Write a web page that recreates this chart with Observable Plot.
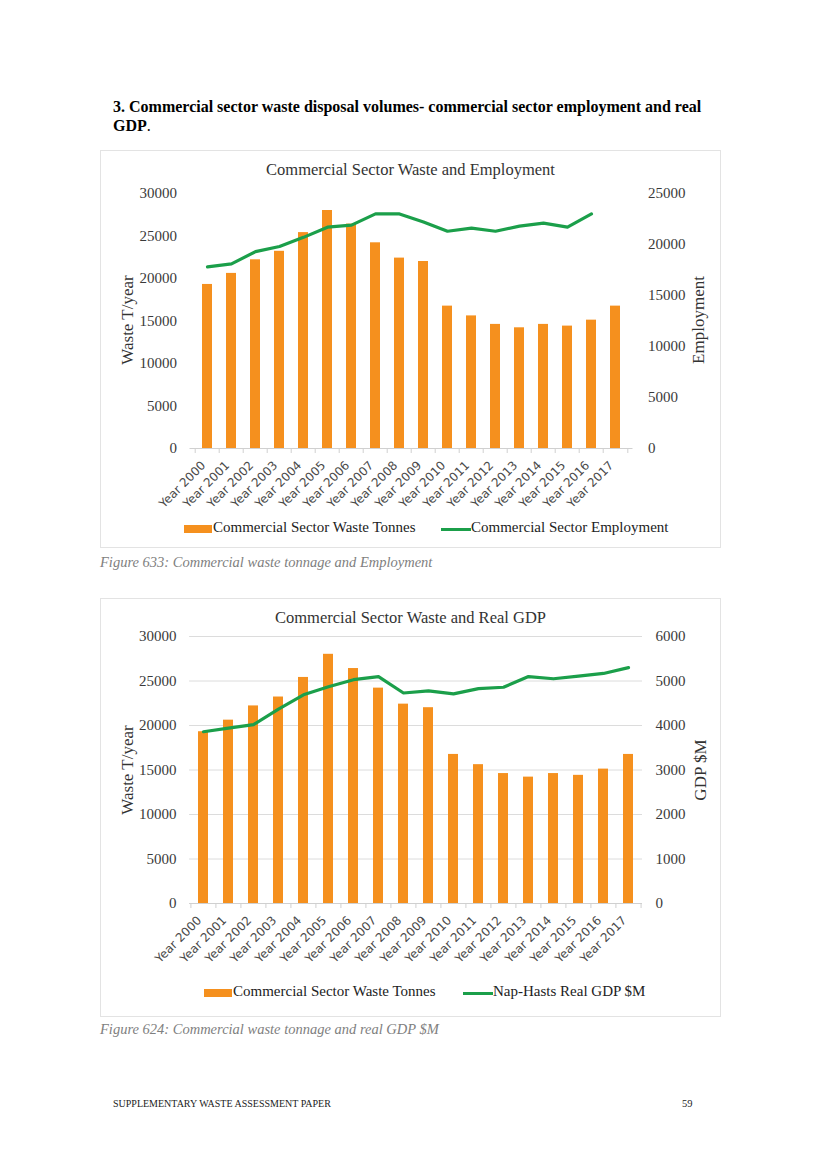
<!DOCTYPE html>
<html>
<head>
<meta charset="utf-8">
<script src="https://cdn.jsdelivr.net/npm/d3@7"></script>
<script src="https://cdn.jsdelivr.net/npm/@observablehq/plot@0.6"></script>
<style>
  html, body { margin: 0; padding: 0; background: #fff; }
  #page { position: relative; width: 821px; height: 1160px; overflow: hidden; font-family: "Liberation Serif", serif; color: #000; }
  .abs { position: absolute; white-space: nowrap; }
  .box { position: absolute; border: 1.5px solid #e3e3e3; box-sizing: border-box; }
  .ctitle { position: absolute; left: 100px; width: 621px; text-align: center; font-size: 16.5px; color: #333; }
  .legtxt { font-size: 15px; color: #222; }
  .caption { font-style: italic; font-size: 14.5px; color: #808080; }
  .ytitle { position: absolute; width: 200px; height: 20px; line-height: 20px; text-align: center; font-size: 17px; color: #333; transform: rotate(-90deg); }
</style>
</head>
<body>
<div id="page"></div>
<script>
// ---------- data ----------
const years = ["Year 2000","Year 2001","Year 2002","Year 2003","Year 2004","Year 2005","Year 2006","Year 2007","Year 2008","Year 2009","Year 2010","Year 2011","Year 2012","Year 2013","Year 2014","Year 2015","Year 2016","Year 2017"];
const wasteTonnes = [19300, 20600, 22200, 23200, 25400, 28000, 26400, 24200, 22400, 22000, 16750, 15600, 14600, 14200, 14600, 14400, 15100, 16750];
const employment = [17800, 18100, 19300, 19800, 20700, 21700, 21900, 23000, 23000, 22200, 21300, 21600, 21300, 21800, 22100, 21700, 23000, null];
const realGdp = [3860, 3940, 4020, 4370, 4690, 4870, 5030, 5100, 4730, 4780, 4710, 4830, 4860, 5100, 5050, 5110, 5170, 5300];
const wasteTicks = [0, 5000, 10000, 15000, 20000, 25000, 30000];
const employmentTicks = [0, 5000, 10000, 15000, 20000, 25000];
const gdpTicks = [0, 1000, 2000, 3000, 4000, 5000, 6000];

const ORANGE = "#F5901E";
const GREEN = "#1B9F4A";
const SERIF = "Liberation Serif, serif";
const SANS = "DejaVu Sans, sans-serif";

const page = document.getElementById("page");
function el(tag, cls, style, text) {
  const e = document.createElement(tag);
  if (cls) e.className = cls;
  Object.assign(e.style, style);
  if (text != null) e.textContent = text;
  page.appendChild(e);
  return e;
}

// heading (two lines, as in the reference)
el("div", "abs", {left: "113px", top: "97px", fontSize: "16px", lineHeight: "19px", fontWeight: "bold"},
  "3. Commercial sector waste disposal volumes- commercial sector employment and real");
const h2 = el("div", "abs", {left: "113px", top: "116px", fontSize: "16px", lineHeight: "19px"});
h2.innerHTML = "<b>GDP</b>.";

function dualChart({svgTop, svgHeight, mT, mB, mL, mR, lineVals, rightTicks, rightMax, rightPad, grid}) {
  const k = 30000 / rightMax;
  const step = (621 - mL - mR) / years.length;
  const data = years.map((y, i) => ({year: y, waste: wasteTonnes[i], line: lineVals[i] == null ? NaN : lineVals[i] * k}));
  const chart = Plot.plot({
    width: 621, height: svgHeight,
    marginTop: mT, marginBottom: mB, marginLeft: mL, marginRight: mR,
    style: {fontFamily: SERIF, fontSize: "15px", color: "#3a3a3a", background: "transparent", overflow: "visible"},
    x: {domain: years, paddingInner: 0.6, paddingOuter: 0.3, label: null},
    y: {domain: [0, 30000], label: null},
    marks: [
      grid ? Plot.gridY(wasteTicks, {stroke: "#dcdcdc", strokeOpacity: 1, strokeWidth: 1}) : null,
      Plot.ruleY([0], {stroke: "#d0d0d0", strokeWidth: 1}),
      // category boundary tick marks below the axis
      Plot.ruleX(years, {x: d => d, y1: 0, y2: 0, dx: -step / 2, insetBottom: -5, stroke: "#d0d0d0"}),
      Plot.ruleX(years.slice(-1), {x: d => d, y1: 0, y2: 0, dx: step / 2, insetBottom: -5, stroke: "#d0d0d0"}),
      Plot.barY(data, {x: "year", y: "waste", fill: ORANGE}),
      Plot.lineY(data, {x: "year", y: "line", stroke: GREEN, strokeWidth: 3.2, curve: "linear"}),
      Plot.axisY({ticks: wasteTicks, tickSize: 0, tickPadding: 13, tickFormat: d => String(d), label: null, fontSize: 15}),
      Plot.axisY({anchor: "right", ticks: rightTicks.map(v => v * k), tickSize: 0, tickPadding: rightPad,
        tickFormat: v => String(Math.round(v / k)), label: null, fontSize: 15}),
      Plot.axisX({tickSize: 0, tickPadding: 8, tickRotate: -45, dx: -4, dy: 7, fontFamily: SANS, fontSize: 12, fill: "#4a4a4a", label: null})
    ]
  });
  chart.style.position = "absolute";
  chart.style.left = "100px";
  chart.style.top = svgTop + "px";
  page.appendChild(chart);
}

// ---------- chart 1 ----------
el("div", "box", {left: "100px", top: "150px", width: "621px", height: "398px"});
el("div", "ctitle", {top: "160px"}, "Commercial Sector Waste and Employment");
dualChart({svgTop: 180, svgHeight: 330, mT: 13, mB: 62, mL: 89.5, mR: 88.5,
  lineVals: employment, rightTicks: employmentTicks, rightMax: 25000, rightPad: 15, grid: false});
el("div", "ytitle", {left: (128 - 100) + "px", top: (320 - 10) + "px"}, "Waste T/year");
el("div", "ytitle", {left: (699 - 100) + "px", top: (320 - 10) + "px"}, "Employment");
// legend 1
el("div", "abs", {left: "184px", top: "525px", width: "28px", height: "8px", background: ORANGE});
el("div", "abs legtxt", {left: "213px", top: "519px"}, "Commercial Sector Waste Tonnes");
el("div", "abs", {left: "441px", top: "527.5px", width: "30px", height: "3px", background: GREEN});
el("div", "abs legtxt", {left: "471px", top: "519px"}, "Commercial Sector Employment");
el("div", "abs caption", {left: "100px", top: "554px"}, "Figure 633: Commercial waste tonnage and Employment");

// ---------- chart 2 ----------
el("div", "box", {left: "100px", top: "598px", width: "621px", height: "419px"});
el("div", "ctitle", {top: "608px"}, "Commercial Sector Waste and Real GDP");
dualChart({svgTop: 622, svgHeight: 345, mT: 14, mB: 64, mL: 89.1, mR: 79,
  lineVals: realGdp, rightTicks: gdpTicks, rightMax: 6000, rightPad: 13, grid: true});
el("div", "ytitle", {left: (128 - 100) + "px", top: (770 - 10) + "px"}, "Waste T/year");
el("div", "ytitle", {left: (701 - 100) + "px", top: (770 - 10) + "px"}, "GDP $M");
el("div", "abs", {left: "204px", top: "989px", width: "28px", height: "8px", background: ORANGE});
el("div", "abs legtxt", {left: "233px", top: "983px"}, "Commercial Sector Waste Tonnes");
el("div", "abs", {left: "463px", top: "991.5px", width: "30px", height: "3px", background: GREEN});
el("div", "abs legtxt", {left: "493px", top: "983px"}, "Nap-Hasts Real GDP $M");
el("div", "abs caption", {left: "100px", top: "1021px"}, "Figure 624: Commercial waste tonnage and real GDP $M");

// footer
el("div", "abs", {left: "113px", top: "1098px", fontSize: "10px", color: "#222"}, "SUPPLEMENTARY WASTE ASSESSMENT PAPER");
el("div", "abs", {left: "682px", top: "1098px", fontSize: "10.5px", color: "#222"}, "59");
</script>
</body>
</html>
